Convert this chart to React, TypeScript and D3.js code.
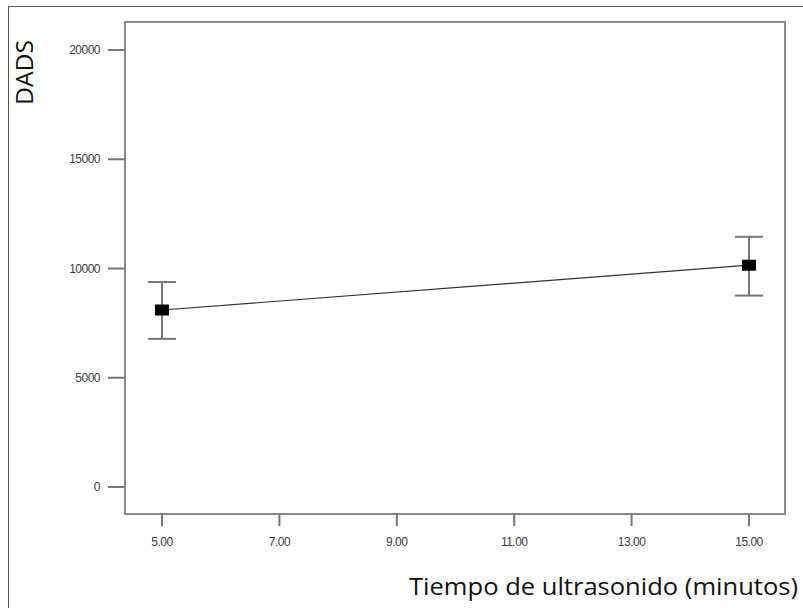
import React from "react";
import * as d3 from "d3";

const xValues = [5, 15];
const yValues = [8100, 10150];
const errUpper = [9380, 11450];
const errLower = [6780, 8760];
const xTicks = [5, 7, 9, 11, 13, 15];
const yTicks = [0, 5000, 10000, 15000, 20000];
const xTitle = "Tiempo de ultrasonido (minutos)";
const yTitle = "DADS";

export default function App() {
  const W = 803, H = 608;
  const frame = { left: 125, top: 22, right: 785, bottom: 514 };
  const x = d3.scaleLinear().domain([5, 15]).range([162, 749]);
  const y = d3.scaleLinear().domain([0, 20000]).range([487, 50]);
  const line = d3.line<number>().x((_, i) => x(xValues[i])).y((d) => y(d));
  const tickColor = "#777";
  const labelColor = "#3a3a4a";
  return (
    <svg width={W} height={H} style={{ position: "absolute", left: 0, top: 0 }}>
      <rect x={0} y={0} width={W} height={H} fill="#fff" />
      <line x1={8.5} y1={6.5} x2={803} y2={6.5} stroke="#555" strokeWidth={1} />
      <line x1={8.5} y1={6.5} x2={8.5} y2={608} stroke="#555" strokeWidth={1} />
      <rect
        x={frame.left}
        y={frame.top}
        width={frame.right - frame.left}
        height={frame.bottom - frame.top}
        fill="none"
        stroke="#888"
        strokeWidth={2}
      />
      {yTicks.map((t) => (
        <g key={"y" + t}>
          <line x1={108} x2={frame.left} y1={y(t)} y2={y(t)} stroke={tickColor} strokeWidth={2} />
          <text
            x={100}
            y={y(t)}
            dy="0.35em"
            textAnchor="end"
            fontFamily="Liberation Sans, Arial, sans-serif"
            fontSize={12}
            fill={labelColor}
            style={{ letterSpacing: "-0.5px" }}
          >
            {t}
          </text>
        </g>
      ))}
      {xTicks.map((t) => (
        <g key={"x" + t}>
          <line x1={x(t)} x2={x(t)} y1={frame.bottom} y2={526} stroke={tickColor} strokeWidth={2} />
          <text
            x={x(t)}
            y={546}
            textAnchor="middle"
            fontFamily="Liberation Sans, Arial, sans-serif"
            fontSize={12}
            fill={labelColor}
            style={{ letterSpacing: "-0.5px" }}
          >
            {t.toFixed(2)}
          </text>
        </g>
      ))}
      <path d={line(yValues) || ""} fill="none" stroke="#333" strokeWidth={1.2} />
      {xValues.map((xv, i) => (
        <g key={"e" + i}>
          <line x1={x(xv)} x2={x(xv)} y1={y(errUpper[i])} y2={y(errLower[i])} stroke="#777" strokeWidth={2} />
          <line x1={x(xv) - 14} x2={x(xv) + 14} y1={y(errUpper[i])} y2={y(errUpper[i])} stroke="#777" strokeWidth={2} />
          <line x1={x(xv) - 14} x2={x(xv) + 14} y1={y(errLower[i])} y2={y(errLower[i])} stroke="#777" strokeWidth={2} />
          <rect x={x(xv) - 7} y={y(yValues[i]) - 5.5} width={14} height={11} fill="#000" />
        </g>
      ))}
      <text
        transform="translate(33,72.5) rotate(-90)"
        textAnchor="middle"
        fontFamily="Open Sans, Liberation Sans, sans-serif"
        fontSize={24}
        textLength={65}
        lengthAdjust="spacingAndGlyphs"
        fill="#111"
      >
        {yTitle}
      </text>
      <text
        x={409}
        y={595}
        fontFamily="Open Sans, Liberation Sans, sans-serif"
        fontSize={23}
        textLength={389}
        lengthAdjust="spacingAndGlyphs"
        fill="#111"
      >
        {xTitle}
      </text>
    </svg>
  );
}
